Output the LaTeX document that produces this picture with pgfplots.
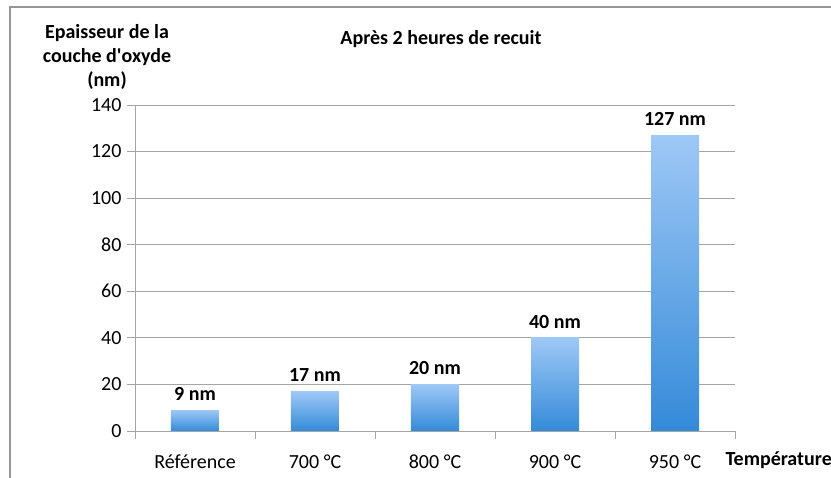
\documentclass[border=0pt]{standalone}
\usepackage{fontspec}
\setmainfont{Carlito}
\usepackage{pgfplots}
\pgfplotsset{compat=1.18}
\definecolor{gridgray}{RGB}{165,165,165}
\definecolor{framegray}{RGB}{150,150,150}
\definecolor{bartop}{RGB}{158,200,246}
\definecolor{barbot}{RGB}{52,138,216}
\begin{document}
\begin{tikzpicture}[font=\fontsize{20}{24}\selectfont]
\begin{axis}[
    scale only axis, width=600pt, height=326pt,
    xmin=-0.5, xmax=4.5, ymin=0, ymax=140,
    axis x line*=bottom, axis y line*=left,
    axis line style={gridgray, line width=0.8pt, -},
    ytick={0,20,...,140},
    ymajorgrids, grid style={gridgray, line width=0.8pt},
    xtick={0,...,4},
    xticklabels={Référence,700 °C,800 °C,900 °C,950 °C},
    minor xtick={-0.5,0.5,...,4.5},
    major x tick style={draw=none},
    tick style={gridgray, line width=0.8pt},
    tick align=outside,
    major tick length=8pt, minor tick length=8pt,
    xticklabel style={yshift=-12pt},
    yticklabel style={xshift=-2pt},
    /pgf/number format/assume math mode=true,
    ybar, bar width=48pt, bar shift=0pt,
    nodes near coords={\pgfmathprintnumber{\pgfplotspointmeta} nm},
    nodes near coords style={font=\fontsize{20}{24}\selectfont\bfseries, text=black, yshift=6pt},
    every axis plot/.append style={draw=none, top color=bartop, bottom color=barbot},
  ]
  % one plot per bar so that each bar gets its own gradient
  \addplot coordinates {(0,9)};
  \addplot coordinates {(1,17)};
  \addplot coordinates {(2,20)};
  \addplot coordinates {(3,40)};
  \addplot coordinates {(4,127)};
  \coordinate (O) at (axis cs:-0.5,0);
\end{axis}
\begin{scope}[shift={(O)}, x=1pt, y=1pt, xshift=-135pt, yshift=-47pt]
  \draw[framegray, line width=1.5pt] (10,0) -- (10,471) -- (831,471);
  \node[font=\fontsize{20}{24}\selectfont\bfseries] at (441,439) {Après 2 heures de recuit};
  \node[font=\fontsize{20}{24}\selectfont\bfseries, align=center] at (107,421)
    {Epaisseur de la\\couche d\textquotesingle oxyde\\(nm)};
  \node[font=\fontsize{20}{24}\selectfont\bfseries, anchor=west] at (722,18) {Température};
  \pgfresetboundingbox
  \useasboundingbox (0,0) rectangle (831,478);
\end{scope}
\end{tikzpicture}
\end{document}
